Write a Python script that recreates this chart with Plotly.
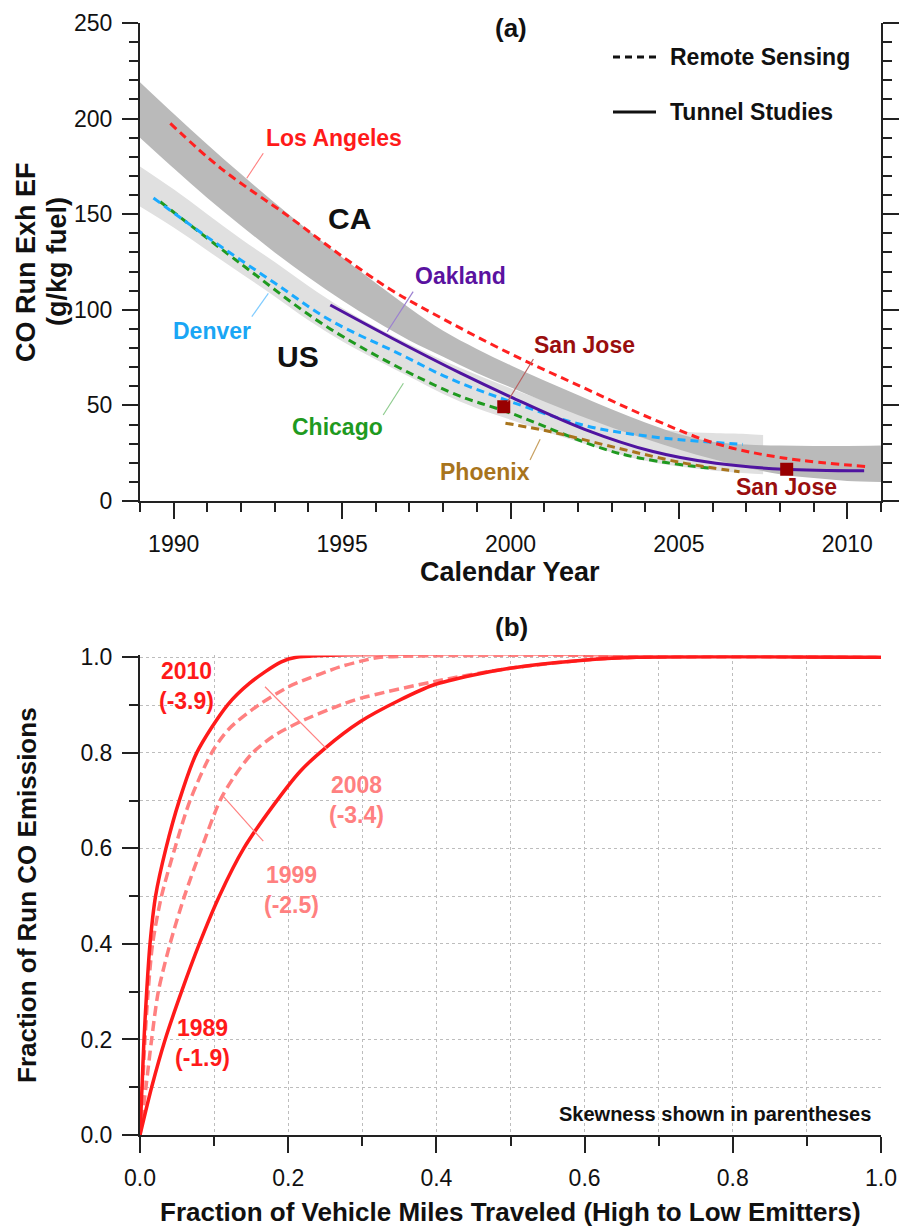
import plotly.graph_objects as go

# ---------------- Panel (a): CO running-exhaust emission factors ----------------
ca_band_year = [1989, 1990, 1991, 1992, 1993, 1994, 1995, 1996, 1997, 1998, 1999, 2000,
                2001, 2002, 2003, 2004, 2005, 2006, 2007, 2008, 2009, 2010, 2011]
ca_band_low = [190, 174, 158.5, 144, 130, 117, 105, 94, 84, 75.5, 67, 59.5,
               52, 45, 38.5, 32.5, 27, 22, 17.5, 14, 12, 10.5, 10]
ca_band_high = [219, 202.5, 186.5, 171, 156, 141.5, 127.5, 114, 101, 89, 79.5, 71,
                63, 55.5, 48, 41, 35, 31, 29.5, 29, 28.8, 28.8, 29]

us_band_year = [1989, 1990, 1991, 1992, 1993, 1994, 1995, 1996, 1997, 1998, 1999,
                2000, 2001, 2002, 2003, 2004, 2005, 2006, 2007, 2007.5]
us_band_low = [154, 143, 131, 119, 107, 94.5, 83.5, 74, 65, 56, 48.5,
               42.5, 36.5, 31, 25.5, 21, 18, 16, 14.5, 14]
us_band_high = [175, 163, 150, 137, 125, 112.5, 101, 91, 82, 73.5, 66,
                59, 52.5, 47, 42, 38.5, 36.5, 35.5, 35, 34.5]

la_year = [1989.9, 1991.4, 1993.4, 1995.0, 1996.4, 1997.6, 2000.0, 2002.2, 2004.2, 2006.1, 2008.1, 2010.6]
la_ef = [197.5, 174, 149, 128, 111, 99, 77, 59, 43, 30, 22.5, 18]

denver_year = [1989.4, 1991.0, 1993.0, 1994.65, 1996.7, 1998.2, 2000.0, 2002.2, 2004.2, 2006.9]
denver_ef = [158.5, 138, 114, 94.5, 77, 64, 52, 39.5, 33.6, 29.6]

chicago_year = [1989.6, 1992.0, 1994.65, 1998.2, 2000.0, 2003.2, 2006.0]
chicago_ef = [156.5, 124, 90, 57, 46, 25, 17]

phoenix_year = [1999.85, 2001.2, 2003.2, 2005.1, 2006.8]
phoenix_ef = [40.7, 36.2, 27.6, 20, 15.3]

oakland_year = [1994.65, 1996.5, 1998.5, 2000.0, 2002.2, 2004.2, 2006.1, 2008.1, 2010.5]
oakland_ef = [102.5, 85, 67, 54.5, 37.5, 26, 19.7, 16.6, 15.8]

sanjose_year = [1999.8, 2008.2]
sanjose_ef = [49.3, 16.6]

# ---------------- Panel (b): cumulative emission distributions ----------------
vmt_2010 = [0, 0.0027, 0.0054, 0.009, 0.0135, 0.021, 0.035, 0.053, 0.0765, 0.118, 0.148, 0.19, 0.211, 1.0]
co_2010 = [0, 0.1, 0.2, 0.3, 0.4, 0.5, 0.6, 0.7, 0.8, 0.9, 0.946, 0.99, 1.0, 1.0]

vmt_2008 = [0, 0.0035, 0.0067, 0.011, 0.017, 0.029, 0.047, 0.0675, 0.0967, 0.12, 0.16, 0.2, 0.216,
            0.27, 0.301, 0.324, 1.0]
co_2008 = [0, 0.1, 0.2, 0.3, 0.4, 0.5, 0.6, 0.7, 0.8, 0.85, 0.9, 0.938, 0.949,
           0.98, 0.993, 1.0, 1.0]

vmt_1999 = [0, 0.008, 0.0157, 0.0247, 0.0405, 0.06, 0.083, 0.108, 0.127, 0.152, 0.18, 0.216, 0.27,
            0.297, 0.396, 0.499, 0.598, 0.67, 1.0]
co_1999 = [0, 0.1, 0.2, 0.3, 0.4, 0.5, 0.6, 0.7, 0.75, 0.8, 0.835, 0.865, 0.9,
           0.914, 0.949, 0.977, 0.994, 1.0, 1.0]

vmt_1989 = [0, 0.0157, 0.034, 0.056, 0.08, 0.107, 0.14, 0.18, 0.216, 0.25, 0.297, 0.35, 0.396,
            0.45, 0.499, 0.55, 0.598, 0.67, 1.0]
co_1989 = [0, 0.1, 0.2, 0.3, 0.4, 0.5, 0.6, 0.69, 0.761, 0.81, 0.865, 0.91, 0.942,
           0.963, 0.977, 0.987, 0.994, 1.0, 1.0]

W, H = 901, 1226
FONT = "Liberation Sans, Arial, sans-serif"
AX = "#222222"
RED = "#ff1a1a"
PINK = "#ff8080"


def px(xp):
    return xp / W


def py(yp):
    return 1 - yp / H


fig = go.Figure()


def band(year, low, high, color):
    fig.add_trace(go.Scatter(x=year, y=low, mode="lines", line=dict(width=0, shape="spline"),
                             hoverinfo="skip", showlegend=False, xaxis="x", yaxis="y"))
    fig.add_trace(go.Scatter(x=year, y=high, mode="lines", line=dict(width=0, shape="spline"),
                             fill="tonexty", fillcolor=color, hoverinfo="skip",
                             showlegend=False, xaxis="x", yaxis="y"))


band(us_band_year, us_band_low, us_band_high, "#e0e0e0")
band(ca_band_year, ca_band_low, ca_band_high, "#bababa")


def city(year, ef, color, dash):
    fig.add_trace(go.Scatter(x=year, y=ef, mode="lines",
                             line=dict(color=color, width=3, dash=dash, shape="spline"),
                             showlegend=False, xaxis="x", yaxis="y"))


city(chicago_year, chicago_ef, "#1f9a1f", "8px,5px")
city(phoenix_year, phoenix_ef, "#a8741c", "8px,5px")
city(denver_year, denver_ef, "#1aaaff", "8px,5px")
city(oakland_year, oakland_ef, "#5014a0", "solid")
city(la_year, la_ef, "#ff2020", "8px,5px")

fig.add_trace(go.Scatter(x=sanjose_year, y=sanjose_ef, mode="markers",
                         marker=dict(symbol="square", size=13, color="#990000"),
                         showlegend=False, xaxis="x", yaxis="y"))


def curve(xv, yv, color, dash):
    fig.add_trace(go.Scatter(x=xv, y=yv, mode="lines",
                             line=dict(color=color, width=3.5, dash=dash, shape="spline", smoothing=0.8),
                             showlegend=False, xaxis="x2", yaxis="y2"))


curve(vmt_1999, co_1999, PINK, "10px,5px")
curve(vmt_2008, co_2008, PINK, "10px,5px")
curve(vmt_1989, co_1989, RED, "solid")
curve(vmt_2010, co_2010, RED, "solid")

tickfont = dict(family=FONT, size=23, color="#111")
common = dict(showline=True, linewidth=2, linecolor=AX, ticks="outside", ticklen=16,
              tickwidth=2, tickcolor=AX, zeroline=False, tickfont=tickfont,
              automargin=False, ticklabelstandoff=5)

fig.update_layout(
    width=W, height=H, autosize=False,
    margin=dict(l=0, r=0, t=0, b=0),
    paper_bgcolor="white", plot_bgcolor="white",
    showlegend=False,
    font=dict(family=FONT),
    xaxis=dict(domain=[px(140), px(881)], anchor="y", range=[1989, 2011],
               tick0=1990, dtick=5, showgrid=False,
               minor=dict(tick0=1989, dtick=1, ticklen=9, tickwidth=2, tickcolor=AX,
                          ticks="outside", showgrid=False),
               **common),
    yaxis=dict(domain=[py(501), py(23)], anchor="x", range=[0, 250],
               tick0=0, dtick=50, showgrid=False, mirror="ticks",
               minor=dict(tick0=0, dtick=10, ticklen=9, tickwidth=2, tickcolor=AX,
                          ticks="outside", showgrid=False),
               **common),
    xaxis2=dict(domain=[px(140), px(881)], anchor="y2", range=[0, 1],
                tick0=0, dtick=0.2, tickformat=".1f",
                showgrid=True, gridcolor="#bdbdbd", griddash="dot", gridwidth=1,
                minor=dict(tick0=0, dtick=0.1, ticklen=9, tickwidth=2, tickcolor=AX,
                           ticks="outside", showgrid=True, gridcolor="#bdbdbd",
                           griddash="dot", gridwidth=1),
                **common),
    yaxis2=dict(domain=[py(1135), py(655.4)], anchor="x2", range=[0, 1.004],
                tick0=0, dtick=0.2, tickformat=".1f",
                showgrid=True, gridcolor="#bdbdbd", griddash="dot", gridwidth=1,
                minor=dict(tick0=0, dtick=0.1, ticklen=9, tickwidth=2, tickcolor=AX,
                           ticks="outside", showgrid=True, gridcolor="#bdbdbd",
                           griddash="dot", gridwidth=1),
                **common),
)

ann = []


def text(x, y, s, size, color="#111", xref="paper", yref="paper", xanchor="center", angle=0):
    ann.append(dict(x=x, y=y, xref=xref, yref=yref, text=s, showarrow=False,
                    xanchor=xanchor, yanchor="middle", textangle=angle,
                    font=dict(family=FONT, size=size, color=color, weight="bold")))


# panel (a) titles and legend
text(px(511), py(28), "(a)", 26)
text(px(668), py(57), "Remote Sensing", 23, xanchor="left")
text(px(668), py(112), "Tunnel Studies", 23, xanchor="left")
text(px(26), py(262), "CO Run Exh EF", 27, angle=-90)
text(px(57), py(261), "(g/kg fuel)", 27, angle=-90)
text(px(510), py(572), "Calendar Year", 27)

# panel (a) city labels
text(1994.76, 189.9, "Los Angeles", 23, "#ff1a1a", "x", "y")
text(1995.21, 147.5, "CA", 30, "#111", "x", "y")
text(1998.52, 117.7, "Oakland", 23, "#5a12a0", "x", "y")
text(1991.14, 88.9, "Denver", 23, "#1aa6f5", "x", "y")
text(1993.68, 75.8, "US", 30, "#111", "x", "y")
text(1994.85, 38.7, "Chicago", 23, "#1f9a1f", "x", "y")
text(2002.21, 81.6, "San Jose", 23, "#9a0e0e", "x", "y")
text(1999.23, 15.2, "Phoenix", 23, "#a8741c", "x", "y")
text(2008.2, 7.1, "San Jose", 23, "#9a0e0e", "x", "y")

# panel (b) titles and labels
text(px(511), py(627), "(b)", 26)
text(px(27), py(895), "Fraction of Run CO Emissions", 26, angle=-90)
text(px(510), py(1212), "Fraction of Vehicle Miles Traveled (High to Low Emitters)", 26)
text(0.989, 0.045, "Skewness shown in parentheses", 20, "#111", "x2", "y2", xanchor="right")
text(0.0621, 0.939, "2010<br>(-3.9)", 23, RED, "x2", "y2")
text(0.2928, 0.701, "2008<br>(-3.4)", 23, PINK, "x2", "y2")
text(0.2045, 0.512, "1999<br>(-2.5)", 23, PINK, "x2", "y2")
text(0.0843, 0.193, "1989<br>(-1.9)", 23, RED, "x2", "y2")

fig.update_layout(annotations=ann)

shapes = []


def leader(x0, y0, x1, y1, color, xref="x", yref="y"):
    shapes.append(dict(type="line", x0=x0, y0=y0, x1=x1, y1=y1, xref=xref, yref=yref,
                       line=dict(color=color, width=1.2)))


leader(1992.66, 181.9, 1992.17, 168.8, "#ff8080")
leader(1997.11, 109.5, 1996.34, 88.5, "#9b80d0")
leader(1992.81, 108.6, 1992.32, 96.4, "#80ccff")
leader(1996.82, 61.6, 1996.22, 45.0, "#8fcc8f")
leader(2000.68, 74.3, 1999.91, 51.9, "#b86060")
leader(2000.88, 32.3, 2000.58, 21.4, "#c8a060")
leader(0.1687, 0.9384, 0.2519, 0.8084, PINK, "x2", "y2")
leader(0.1103, 0.7126, 0.1664, 0.6150, PINK, "x2", "y2")

# legend line samples
shapes.append(dict(type="line", xref="paper", yref="paper", x0=px(613), x1=px(658),
                   y0=py(57), y1=py(57), line=dict(color="#111", width=3, dash="7px,5px")))
shapes.append(dict(type="line", xref="paper", yref="paper", x0=px(613), x1=px(656),
                   y0=py(112), y1=py(112), line=dict(color="#111", width=3)))

fig.update_layout(shapes=shapes)

fig.write_html("out.html")
